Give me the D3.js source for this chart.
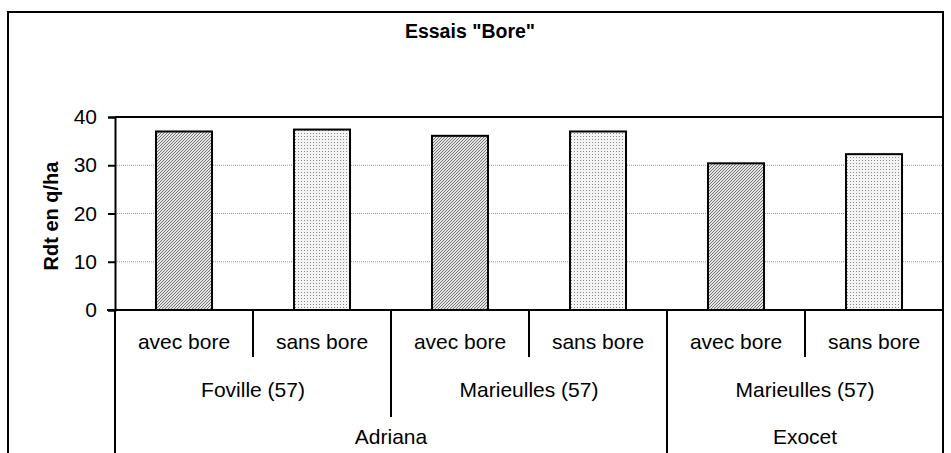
<!DOCTYPE html>
<html>
<head>
<meta charset="utf-8">
<script src="https://cdn.jsdelivr.net/npm/d3@7"></script>
<style>
  body { margin: 0; background: #fff; }
  svg { font-family: "Liberation Sans", Arial, sans-serif; }
</style>
</head>
<body>
<svg id="chart" width="951" height="453"></svg>
<script>
// Chart data
const treatments = ['avec bore', 'sans bore', 'avec bore', 'sans bore', 'avec bore', 'sans bore'];
const sites = ['Foville (57)', 'Marieulles (57)', 'Marieulles (57)'];
const varieties = ['Adriana', 'Exocet'];
const siteSpan = [2, 2, 2];      // number of bars under each site
const varietySpan = [4, 2];      // number of bars under each variety
const yields = [37.0, 37.4, 36.1, 37.0, 30.4, 32.3];
const yTicks = [0, 10, 20, 30, 40];

const svg = d3.select('#chart');
const plotLeft = 115, plotRight = 943, plotTop = 117, plotBottom = 310;
const labelSize = 21;

// Bar fill patterns
const defs = svg.append('defs');
const hatch = defs.append('pattern').attr('id', 'hatch')
  .attr('width', 3).attr('height', 3).attr('patternUnits', 'userSpaceOnUse');
hatch.append('rect').attr('width', 3).attr('height', 3).attr('fill', '#e4e4e4');
hatch.append('path').attr('d', 'M-1,1 L1,-1 M0,3 L3,0 M2,4 L4,2')
  .attr('stroke', '#767676').attr('stroke-width', 1);

const dots = defs.append('pattern').attr('id', 'dots')
  .attr('width', 3).attr('height', 3).attr('patternUnits', 'userSpaceOnUse');
dots.append('rect').attr('width', 3).attr('height', 3).attr('fill', '#f4f4f4');
dots.append('rect').attr('x', 1).attr('y', 1).attr('width', 1).attr('height', 1).attr('fill', '#888');

// Outer frame
svg.append('rect').attr('x', 8).attr('y', 12).attr('width', 935).attr('height', 460)
  .attr('fill', 'none').attr('stroke', '#000').attr('stroke-width', 2);

// Scales
const x = d3.scaleBand().domain(d3.range(yields.length)).range([plotLeft, plotRight]).padding(0);
const y = d3.scaleLinear().domain([0, 40]).range([plotBottom, plotTop]);

// Grid lines
svg.append('g').selectAll('line')
  .data(yTicks.filter(t => t > 0 && t < 40))
  .join('line')
  .attr('x1', plotLeft).attr('x2', plotRight)
  .attr('y1', d => y(d)).attr('y2', d => y(d))
  .attr('stroke', '#999').attr('stroke-width', 1).attr('stroke-dasharray', '1,1');

// Plot border (top, right)
svg.append('path')
  .attr('d', `M${plotLeft},${plotTop}H${plotRight}V${plotBottom}`)
  .attr('fill', 'none').attr('stroke', '#000').attr('stroke-width', 2);

// Bars
const barW = x.bandwidth() * 0.406;
svg.append('g').selectAll('rect')
  .data(yields)
  .join('rect')
  .attr('x', (d, i) => x(i) + (x.bandwidth() - barW) / 2)
  .attr('width', barW)
  .attr('y', d => y(d))
  .attr('height', d => y(0) - y(d))
  .attr('fill', (d, i) => treatments[i] === 'avec bore' ? 'url(#hatch)' : 'url(#dots)')
  .attr('stroke', '#000').attr('stroke-width', 2);

// Y axis
const yAxis = svg.append('g').attr('transform', `translate(${plotLeft},0)`)
  .call(d3.axisLeft(y).tickValues(yTicks).tickSize(7).tickPadding(11));
yAxis.select('.domain').attr('stroke-width', 2);
yAxis.selectAll('.tick line').attr('stroke-width', 2);
yAxis.selectAll('text').attr('font-size', labelSize).attr('fill', '#000')
  .attr('font-family', '"Liberation Sans", Arial, sans-serif');

// Y label
svg.append('text')
  .attr('transform', 'translate(51,216) rotate(-90)')
  .attr('text-anchor', 'middle').attr('dy', '0.35em')
  .attr('font-size', 20).attr('font-weight', 'bold')
  .text('Rdt en q/ha');

// Title
svg.append('text')
  .attr('x', 470).attr('y', 38)
  .attr('text-anchor', 'middle')
  .attr('font-size', 19.5).attr('font-weight', 'bold')
  .text('Essais "Bore"');

// Category axis (three levels)
const cat = svg.append('g');
cat.append('line').attr('x1', 107).attr('x2', plotRight).attr('y1', plotBottom).attr('y2', plotBottom)
  .attr('stroke', '#000').attr('stroke-width', 2);

function boundaries(spans) {
  const b = [0];
  spans.forEach(s => b.push(b[b.length - 1] + s));
  return b;
}
const edge = i => i < yields.length ? x(i) : plotRight;

// Level 1: treatments
d3.range(yields.length + 1).forEach(i => {
  cat.append('line').attr('x1', edge(i)).attr('x2', edge(i)).attr('y1', plotBottom).attr('y2', 357)
    .attr('stroke', '#000').attr('stroke-width', 2);
});
cat.selectAll('.t1').data(treatments).join('text')
  .attr('x', (d, i) => x(i) + x.bandwidth() / 2).attr('y', 342)
  .attr('text-anchor', 'middle').attr('dy', '0.35em').attr('font-size', labelSize)
  .text(d => d);

// Level 2: sites
const sb = boundaries(siteSpan);
sb.forEach(b => {
  cat.append('line').attr('x1', edge(b)).attr('x2', edge(b)).attr('y1', plotBottom).attr('y2', 417)
    .attr('stroke', '#000').attr('stroke-width', 2);
});
cat.selectAll('.t2').data(sites).join('text')
  .attr('x', (d, i) => (edge(sb[i]) + edge(sb[i + 1])) / 2).attr('y', 390)
  .attr('text-anchor', 'middle').attr('dy', '0.35em').attr('font-size', labelSize)
  .text(d => d);

// Level 3: varieties
const vb = boundaries(varietySpan);
vb.forEach(b => {
  cat.append('line').attr('x1', edge(b)).attr('x2', edge(b)).attr('y1', plotBottom).attr('y2', 453)
    .attr('stroke', '#000').attr('stroke-width', 2);
});
cat.selectAll('.t3').data(varieties).join('text')
  .attr('x', (d, i) => (edge(vb[i]) + edge(vb[i + 1])) / 2).attr('y', 437)
  .attr('text-anchor', 'middle').attr('dy', '0.35em').attr('font-size', labelSize)
  .text(d => d);
</script>
</body>
</html>
